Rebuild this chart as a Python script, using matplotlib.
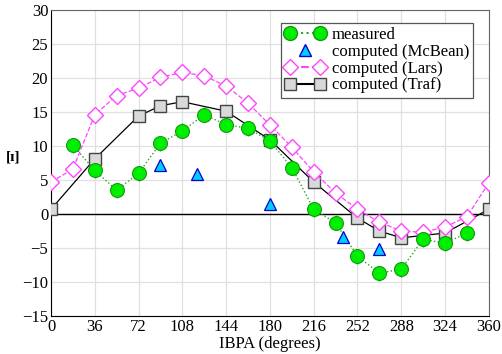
import matplotlib
matplotlib.use('Agg')
import matplotlib.pyplot as plt
from matplotlib.lines import Line2D
from matplotlib.legend_handler import HandlerLine2D

plt.rcParams['font.family'] = ['Liberation Serif', 'DejaVu Serif']

# measured data (with small error bars)
meas_x = [18, 36, 54, 72, 90, 108, 126, 144, 162, 180, 198, 216, 234, 252, 270, 288, 306, 324, 342]
meas_y = [10.1, 6.4, 3.5, 6.0, 10.4, 12.2, 14.6, 13.1, 12.6, 10.7, 6.8, 0.7, -1.3, -6.2, -8.7, -8.1, -3.7, -4.3, -2.8]
meas_err = [1.1] * len(meas_x)

# computed (McBean)
mcb_x = [90, 120, 180, 240, 270]
mcb_y = [7.2, 5.9, 1.5, -3.4, -5.2]

# computed (Lars)
lars_x = [0, 18, 36, 54, 72, 90, 108, 126, 144, 162, 180, 198, 216, 234, 252, 270, 288, 306, 324, 342, 360]
lars_y = [4.7, 6.6, 14.6, 17.4, 18.5, 20.1, 20.8, 20.3, 18.8, 16.3, 13.1, 9.8, 6.2, 3.1, 0.7, -1.2, -2.5, -2.7, -1.9, -0.4, 4.6]

# computed (Traf)
traf_x = [0, 36, 72, 90, 108, 144, 180, 216, 252, 270, 288, 324, 360]
traf_y = [0.7, 8.1, 14.4, 15.9, 16.5, 15.1, 10.9, 4.7, -0.6, -2.5, -3.5, -2.8, 0.7]

xticks = [0, 36, 72, 108, 144, 180, 216, 252, 288, 324, 360]
yticks = [-15, -10, -5, 0, 5, 10, 15, 20, 25, 30]

fig = plt.figure(figsize=(5.021, 3.541), dpi=100)
ax = fig.add_axes([0.1016, 0.107, 0.872, 0.865])

ax.axhline(0, color='black', lw=1.0, zorder=1)

ax.plot(traf_x, traf_y, '-', color='black', lw=0.9, marker='s', ms=9,
        mfc='#d9d9d9', mec='#444444', mew=1.0, zorder=3)
ax.plot(lars_x, lars_y, '--', color='#ff44ff', lw=0.9, marker='D', ms=8,
        mfc='white', mec='#ff44ff', mew=1.0, zorder=3)
ax.errorbar(meas_x, meas_y, yerr=meas_err, fmt='o', color='#22aa22', ecolor='#22aa22',
            elinewidth=1.0, capsize=0, ms=10, mfc='#00ee00', mec='#119911', mew=0.8, zorder=4)
ax.plot(meas_x, meas_y, ':', color='#22aa22', lw=1.0, zorder=2)
ax.plot(mcb_x, mcb_y, '^', ms=9, mfc='#00ccff', mec='#0000cc', mew=0.9, zorder=5)

ax.set_xlim(0, 360)
ax.set_ylim(-15, 30)
ax.set_xticks(xticks)
ax.set_yticks(yticks)
ax.grid(True, color='#e0e0e0', lw=0.9)
ax.set_axisbelow(True)
ax.tick_params(labelsize=12, length=0, pad=2)
for s in ['top', 'right']:
    ax.spines[s].set_color('#666666')
for s in ['left', 'bottom']:
    ax.spines[s].set_color('black')

ax.set_xlabel('IBPA (degrees)', fontsize=12, labelpad=1)
ax.set_ylabel('[ɪ]', fontsize=11, fontweight='bold', rotation=0, va='center', ha='center')
ax.yaxis.set_label_coords(-0.087, 0.52)

h_meas = Line2D([], [], ls=':', color='#22aa22', marker='o', ms=10, mfc='#00ee00', mec='#119911')
h_mcb = Line2D([], [], ls='none', marker='^', ms=9, mfc='#00ccff', mec='#0000cc')
h_lars = Line2D([], [], ls='--', color='#ff44ff', marker='D', ms=8, mfc='white', mec='#ff44ff')
h_traf = Line2D([], [], ls='-', color='black', marker='s', ms=9, mfc='#d9d9d9', mec='#444444')
labels = ['measured', 'computed (McBean)', 'computed (Lars)', 'computed (Traf)']
leg = ax.legend([h_meas, h_mcb, h_lars, h_traf], labels, loc='upper right',
                bbox_to_anchor=(0.964, 0.958), fontsize=12,
                fancybox=False, edgecolor='#555555', framealpha=1, borderpad=0.25,
                labelspacing=0.05, handlelength=2.4, handletextpad=0.4, borderaxespad=0,
                numpoints=2, handler_map={h_mcb: HandlerLine2D(numpoints=1)})
leg.get_frame().set_linewidth(0.9)

fig.savefig('out.png', dpi=100)
